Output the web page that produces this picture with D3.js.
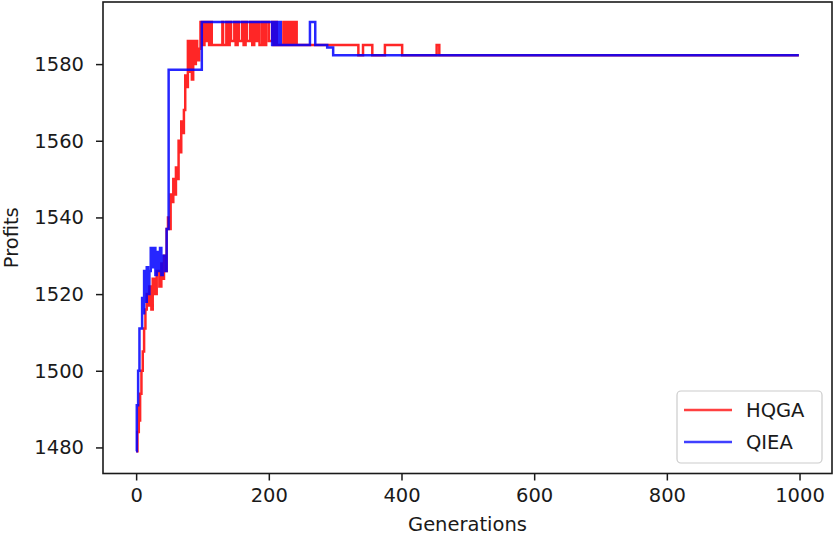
<!DOCTYPE html>
<html>
<head>
<meta charset="utf-8">
<script src="https://cdn.jsdelivr.net/npm/d3@7/dist/d3.min.js"></script>
<style>
html,body{margin:0;padding:0;background:#fff;}
svg{display:block;font-family:"DejaVu Sans",sans-serif;}
</style>
</head>
<body>
<svg id="chart" width="834" height="537"></svg>
<script>
// ---- data (change points: generation -> best profit) ----
const hqgaGen = [0,2,4,5,6,8,10,12,14,16,18,20,23,25,28,31,35,38,40,42,44,46,48,50,52,54,56,58,60,62,64,66,68,70,72,74,76,78,80,82,84,86,88,90,92,95,97,
  99,101,103,105,107,110,112,114,130,131,136,138,141,143,148,150,153,155,160,162,165,167,172,175,178,181,184,186,190,193,196,200,205,207,210,212,
  222,224,227,230,233,236,239,242,335,342,356,375,401,453,457,999];
const hqgaProfit = [1479,1484,1491,1487,1494,1500,1505,1511,1516,1520,1517,1522,1516,1524,1520,1526,1522,1528,1524,1530,1526,1537,1540,1537,1546,1544,1550,1546,1553,1550,1560,1557,1565,1562,1568,1577,1574,1586,1578,1586,1576,1586,1580,1586,1581,1584,1591,
  1591,1585,1591,1586,1591,1585,1591,1585,1591,1585,1591,1585,1591,1586,1591,1585,1591,1586,1591,1585,1591,1586,1591,1585,1591,1586,1591,1585,1591,1585,1591,1586,1591,1585,1591,1585,
  1591,1585,1591,1585,1591,1585,1591,1585,1582.3,1585,1582.3,1585,1582.3,1585,1582.3,1582.3];

const qieaGen = [0,1,3,5,9,11,12,14,16,18,20,22,25,27,29,31,34,36,38,40,44,46,49,99,
  205,206,208,209,211,213,215,216,218,262,270,288,297,999];
const qieaProfit = [1479,1491,1500,1511,1519,1515,1526,1518,1527,1520,1526,1532,1527,1532,1525,1531,1526,1532,1525,1530,1526,1537,1578.5,1591,
  1585,1591,1585,1591,1585,1591,1585,1591,1585,1591,1585,1584.3,1582.3,1582.3];

const seriesNames = ["HQGA","QIEA"];
const seriesColors = ["#ff0000","#0000ff"];
const xTicks = [0,200,400,600,800,1000];
const yTicks = [1480,1500,1520,1540,1560,1580];

// ---- layout ----
const svg = d3.select("#chart");
const L = 103, R = 832, T = 2, B = 473.5;
const FS = 19.5;

const x = d3.scaleLinear().domain([-49.95, 1048.95]).range([L, R]);
const y = d3.scaleLinear().domain([1473.2, 1596.2]).range([B, T]);

const toPts = (g, v) => g.map((d, i) => [d, v[i]]);
const series = [toPts(hqgaGen, hqgaProfit), toPts(qieaGen, qieaProfit)];

const line = d3.line().x(d => x(d[0])).y(d => y(d[1])).curve(d3.curveStepAfter);

svg.append("defs").append("clipPath").attr("id", "clip")
  .append("rect").attr("x", L).attr("y", T).attr("width", R - L).attr("height", B - T);

const g = svg.append("g").attr("clip-path", "url(#clip)");
series.forEach((s, i) => {
  g.append("path").attr("d", line(s)).attr("fill", "none")
    .attr("stroke", seriesColors[i]).attr("stroke-width", 2.5)
    .attr("stroke-linejoin", "miter").attr("stroke-opacity", 0.85);
});

// axes
const xAxis = d3.axisBottom(x).tickValues(xTicks).tickSize(7).tickPadding(8).tickFormat(d3.format("d"));
const yAxis = d3.axisLeft(y).tickValues(yTicks).tickSize(7).tickPadding(12).tickFormat(d3.format("d"));

const gx = svg.append("g").attr("transform", `translate(0,${B})`).call(xAxis);
const gy = svg.append("g").attr("transform", `translate(${L},0)`).call(yAxis);
[gx, gy].forEach(a => {
  a.select(".domain").remove();
  a.selectAll(".tick line").attr("stroke", "#1a1a1a").attr("stroke-width", 1.5);
  a.selectAll(".tick text").attr("fill", "#1a1a1a").attr("font-size", FS)
    .attr("font-family", "DejaVu Sans");
});

// frame
svg.append("rect").attr("x", L).attr("y", T).attr("width", R - L).attr("height", B - T)
  .attr("fill", "none").attr("stroke", "#1a1a1a").attr("stroke-width", 1.6);

// axis labels
svg.append("text").attr("x", (L + R) / 2).attr("y", 531).attr("text-anchor", "middle")
  .attr("font-size", FS).attr("fill", "#1a1a1a").text("Generations");
svg.append("text").attr("transform", `translate(18,${(T + B) / 2}) rotate(-90)`)
  .attr("text-anchor", "middle").attr("font-size", FS).attr("fill", "#1a1a1a").text("Profits");

// legend
const lg = svg.append("g");
lg.append("rect").attr("x", 677).attr("y", 391).attr("width", 145).attr("height", 72)
  .attr("rx", 4).attr("fill", "#fff").attr("fill-opacity", 0.8)
  .attr("stroke", "#cccccc").attr("stroke-width", 1.2);
seriesNames.forEach((n, i) => {
  const yy = 410 + i * 32;
  lg.append("line").attr("x1", 684).attr("x2", 732).attr("y1", yy).attr("y2", yy)
    .attr("stroke", seriesColors[i]).attr("stroke-width", 2.6).attr("stroke-opacity", 0.75);
  lg.append("text").attr("x", 746).attr("y", yy + 7).attr("font-size", FS)
    .attr("fill", "#1a1a1a").text(n);
});
</script>
</body>
</html>
